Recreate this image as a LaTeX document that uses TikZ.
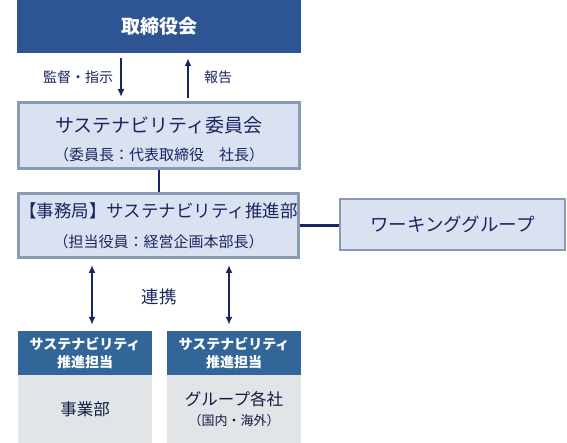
\documentclass[tikz,border=0pt]{standalone}
\usepackage{fontspec}
\setmainfont{Noto Sans CJK JP}
\usetikzlibrary{arrows.meta,positioning}
\definecolor{navy}{HTML}{1B2560}
\definecolor{boardblue}{HTML}{2E5593}
\definecolor{headblue}{HTML}{326598}
\definecolor{boxfill}{HTML}{DAE2F1}
\definecolor{boxline}{HTML}{8A9AB3}
\definecolor{bodyfill}{HTML}{E1E5E8}
\tikzset{>/.tip={Latex[length=8pt,width=7pt]}}
\tikzset{box/.style={draw=boxline,line width=3pt,fill=boxfill,text=navy,align=center,inner sep=0pt}}
\tikzset{head/.style={fill=headblue,text=white,align=center,inner sep=0pt,minimum width=134pt,minimum height=44pt,font=\fontsize{14}{18}\selectfont\bfseries}}
\tikzset{body/.style={fill=bodyfill,text=navy!70!black,align=center,inner sep=0pt,minimum width=134pt,minimum height=68pt}}
\tikzset{lbl/.style={text=navy,inner sep=0pt,font=\fontsize{14}{14}\selectfont}}
\tikzset{link/.style={draw=navy,line width=2.2pt}}

\begin{document}
\begin{tikzpicture}[x=1pt,y=-1pt]
      \useasboundingbox (0,0) rectangle (567,443);
      \node[fill=boardblue,text=white,minimum width=284pt,minimum height=53pt,font=\fontsize{19}{19}\selectfont\bfseries](board) at (159,26.5){取締役会};
      \node[box,minimum width=281pt,minimum height=66pt,font=\fontsize{15}{28}\selectfont](committee) at (159,135.5)
        {\rule{0pt}{23pt}{\fontsize{19}{28}\selectfont サステナビリティ委員会}\\（委員長：代表取締役　社長）};
      \node[box,minimum width=280pt,minimum height=64pt,font=\fontsize{15}{30}\selectfont](office) at (158.5,225.5)
        {{\fontsize{17.5}{30}\selectfont 【事務局】サステナビリティ推進部}\\（担当役員：経営企画本部長）};
      \node[box,line width=2pt,minimum width=225pt,minimum height=51pt,font=\fontsize{18.5}{18.5}\selectfont](wg) at (452.5,224.5){ワーキンググループ};

      \node[head](headA) at (85,353){サステナビリティ\\推進担当};
      \node[body,below=0pt of headA,font=\fontsize{16.5}{16.5}\selectfont](bodyA){事業部};
      \node[head](headB) at (234,353){サステナビリティ\\推進担当};
      \node[body,below=0pt of headB,font=\fontsize{16.5}{20}\selectfont](bodyB){グループ各社\\{\fontsize{13}{20}\selectfont（国内・海外）}};

      \node[lbl](order) at (78,77){監督・指示};
      \node[lbl](report) at (218,77){報告};
      \node[lbl,font=\fontsize{17.5}{17.5}\selectfont](coop) at (159,297){連携};

      \draw[link,->] ([xshift=-38pt,yshift=-5pt]board.south) -- ([xshift=-38pt,yshift=4pt]committee.north);
      \draw[link,->] ([xshift=29pt,yshift=3pt]committee.north) -- ([xshift=29pt,yshift=-5pt]board.south);
      \draw[link] (committee.south) -- (committee.south |- office.north);
      \draw[link] (office.east) -- (office.east -| wg.west);
      \draw[link,<->] ([xshift=-66.5pt,yshift=-6pt]office.south) -- ([xshift=7pt,yshift=6pt]headA.north);
      \draw[link,<->] ([xshift=70.5pt,yshift=-6pt]office.south) -- ([xshift=-5pt,yshift=6pt]headB.north);
\end{tikzpicture}
\end{document}
